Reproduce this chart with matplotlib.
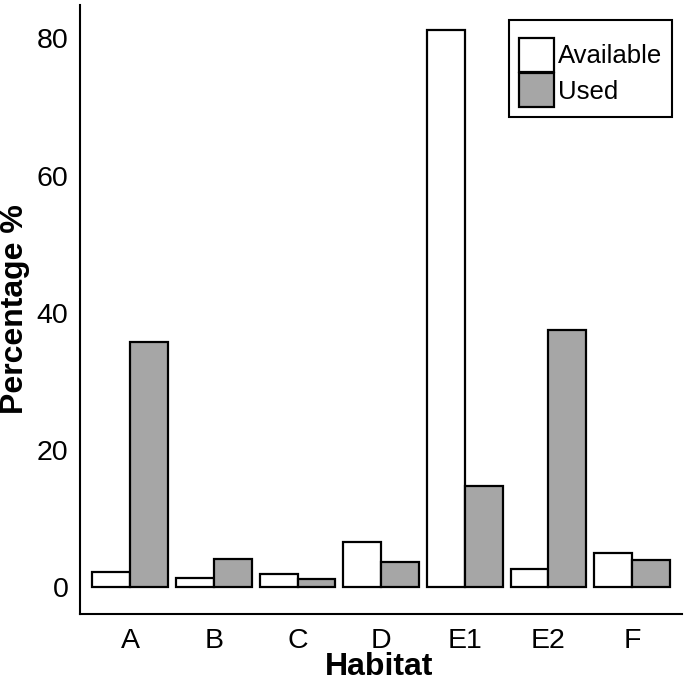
import numpy as np
import matplotlib; matplotlib.use("Agg")
import matplotlib.pyplot as plt

plt.rcParams["font.family"] = ["Liberation Sans", "DejaVu Sans"]

# ── data ──────────────────────────────────────────────────────────────
habitats  = ["A", "B", "C", "D", "E1", "E2", "F"]
available = [2.2, 1.25, 1.9, 6.55, 81.2, 2.6, 5.0]
used      = [35.8, 4.1, 1.2, 3.65, 14.7, 37.5, 3.9]

fig = plt.figure(figsize=(6.85, 6.85), dpi=100)
ax = fig.add_axes([0.117, 0.104, 0.879, 0.889])

x = np.arange(len(habitats))
w = 0.4525
ax.bar(x - w/2, available, w, color="white", edgecolor="black", lw=1.6,
       label="Available")
ax.bar(x + w/2, used, w, color="#a6a6a6", edgecolor="black", lw=1.6,
       label="Used")

ax.set_xlim(-0.6, 6.6)
ax.set_ylim(-3.9, 84.9)
ax.set_yticks([0, 20, 40, 60, 80])
ax.set_xticks(x)
ax.set_xticklabels(habitats)
ax.tick_params(length=0, labelsize=20.5)
ax.tick_params(axis="x", pad=10)
ax.tick_params(axis="y", pad=8.5)

for s in ["top", "right"]:
    ax.spines[s].set_visible(False)
for s in ["left", "bottom"]:
    ax.spines[s].set_linewidth(1.5)

# axis labels, centred on fixed spots
ax.set_xlabel("Habitat", fontsize=23, fontweight="bold", va="center")
ax.set_ylabel("Percentage %", fontsize=23, fontweight="bold",
              va="center", ha="center")
ax.xaxis.set_label_coords(0.497, -0.088)
ax.yaxis.set_label_coords(-0.108, 0.5)

leg = ax.legend(loc="upper right", bbox_to_anchor=(0.983, 0.975),
                borderaxespad=0,
                fontsize=18.5, fancybox=False, edgecolor="black",
                title=" ", title_fontsize=6,
                handlelength=1.38, handleheight=1.65, handletextpad=0.15,
                labelspacing=0.06, borderpad=0.37, framealpha=1)
leg.get_frame().set_linewidth(1.5)

fig.savefig("out.png", dpi=100)
